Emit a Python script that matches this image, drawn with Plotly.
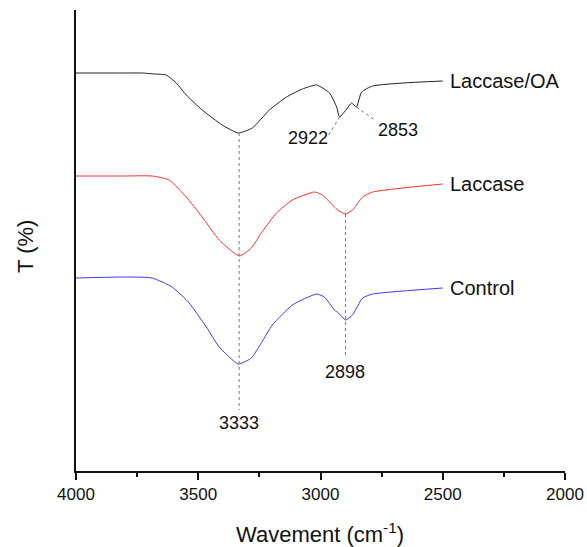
import plotly.graph_objects as go

# Wavenumbers (cm-1) and transmittance (arbitrary offset units)
wn_oa = [4000, 3800, 3730, 3680, 3631, 3590, 3549, 3484, 3402, 3336, 3279, 3209, 3139, 3074,
         3016, 2963, 2934, 2922, 2893, 2873, 2853, 2832, 2787, 2664, 2500]
t_oa = [398, 398, 398, 397, 396, 388, 376, 361, 346, 338, 343, 361, 374, 382,
        386, 378, 364, 354, 362, 368, 364, 379, 385, 388, 390]

wn_lac = [4000, 3800, 3689, 3619, 3549, 3484, 3414, 3332, 3283, 3242, 3180, 3115, 3025,
          2992, 2943, 2930, 2898, 2869, 2828, 2787, 2664, 2500]
t_lac = [295, 295, 295, 291, 274, 254, 231, 215, 223, 238, 258, 271, 279,
         276, 264, 261, 257, 261, 274, 279, 283, 287]

wn_ctl = [4000, 3800, 3689, 3607, 3537, 3467, 3414, 3336, 3283, 3242, 3197, 3115, 3016,
          2984, 2943, 2926, 2898, 2869, 2828, 2787, 2664, 2500]
t_ctl = [193, 194, 193, 184, 168, 144, 124, 107, 113, 128, 146, 166, 177,
         174, 161, 158, 151, 156, 173, 177, 180, 183]

series_names = ["Laccase/OA", "Laccase", "Control"]
series_colors = ["#222222", "#ff3030", "#3a3aff"]

# Peak annotations: (label, x, y) and guide lines
peak_labels = ["3333", "2898", "2922", "2853"]
peak_label_x = [3333, 2898, 3053, 2685]
peak_label_y = [48, 99, 333, 341]
guide_x0 = [3333, 2898, 2922, 2853]
guide_y0 = [338, 257, 354, 364]
guide_x1 = [3333, 2898, 2971, 2779]
guide_y1 = [61, 114, 334, 351]

FONT = "Liberation Sans, Arial"

fig = go.Figure()
for wn, t, name, col in zip([wn_oa, wn_lac, wn_ctl], [t_oa, t_lac, t_ctl], series_names, series_colors):
    fig.add_trace(go.Scatter(x=wn, y=t, mode="lines", name=name,
                             line=dict(color=col, width=1, shape="spline", smoothing=0.5)))
    fig.add_annotation(x=wn[-1], y=t[-1], text=name, showarrow=False, xanchor="left",
                       xshift=5, font=dict(size=20, color="#111", family=FONT))

for x0, y0, x1, y1 in zip(guide_x0, guide_y0, guide_x1, guide_y1):
    fig.add_shape(type="line", x0=x0, y0=y0, x1=x1, y1=y1, xref="x", yref="y",
                  line=dict(color="#777", width=1, dash="dot"))

for lab, x, y in zip(peak_labels, peak_label_x, peak_label_y):
    fig.add_annotation(x=x, y=y, text=lab, showarrow=False,
                       font=dict(size=18, color="#111", family=FONT))

fig.add_annotation(xref="paper", yref="paper", x=(320 - 76) / 489, y=(471 - 533) / 461,
                   xanchor="center", yanchor="middle",
                   text="Wavement (cm<sup>-1</sup>)", showarrow=False,
                   font=dict(size=22, color="#111", family=FONT))
fig.add_annotation(xref="paper", yref="paper", x=(25 - 76) / 489, y=(471 - 247) / 461,
                   xanchor="center", yanchor="middle",
                   text="T (%)", textangle=-90, showarrow=False,
                   font=dict(size=22, color="#111", family=FONT))

fig.update_layout(
    width=587, height=547,
    margin=dict(l=76, r=22, t=10, b=76, autoexpand=False),
    paper_bgcolor="white", plot_bgcolor="white",
    showlegend=False,
    font=dict(family=FONT, color="#111"),
)
fig.update_xaxes(range=[4000, 2000], dtick=500, showline=True, linecolor="#111", linewidth=2,
                 ticks="outside", ticklen=7, tickwidth=1.5, tickcolor="#111", automargin=False,
                 minor=dict(dtick=250, ticks="outside", ticklen=4, tickwidth=1.5, tickcolor="#111"),
                 showgrid=False, zeroline=False, tickfont=dict(size=17, color="#111"))
fig.update_yaxes(range=[0, 461], showline=True, linecolor="#111", linewidth=2, automargin=False,
                 showticklabels=False, ticks="", showgrid=False, zeroline=False)

fig.write_html("out.html")
